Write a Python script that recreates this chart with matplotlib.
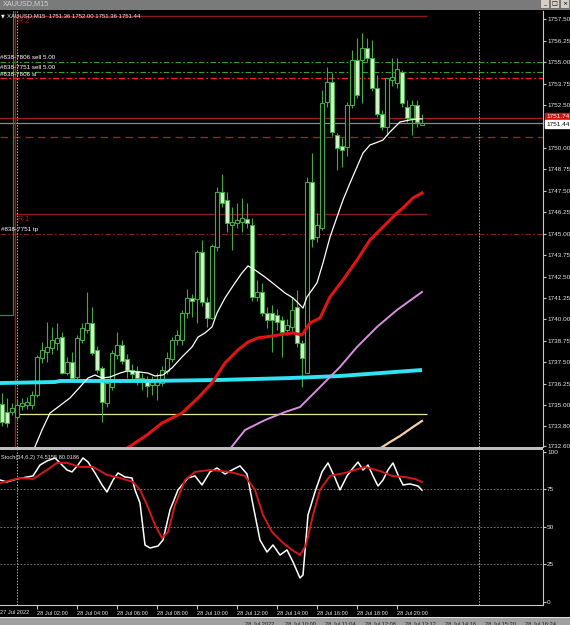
import numpy as np
import matplotlib.pyplot as plt
import matplotlib.transforms as mtransforms
from matplotlib.patches import Rectangle

plt.rcParams['font.family'] = ['Liberation Sans', 'DejaVu Sans']

# XAUUSD M15 candles, 28 Jul 2022
opens = [1735.05, 1734.60, 1734.60, 1734.30, 1734.95, 1735.00, 1735.00, 1735.60, 1737.75, 1738.10,
         1738.35, 1738.60, 1738.95, 1736.90, 1737.50, 1736.65, 1738.80, 1739.40, 1739.80, 1738.20,
         1737.15, 1735.10, 1736.05, 1737.90, 1738.50, 1737.70, 1737.05, 1737.00, 1736.60, 1736.50,
         1736.20, 1736.20, 1736.30, 1737.00, 1737.70, 1738.80, 1738.80, 1740.40, 1741.25, 1741.20,
         1743.90, 1741.00, 1740.10, 1744.20, 1747.40, 1746.95, 1745.50, 1745.60, 1745.70, 1745.85,
         1745.50, 1741.30, 1741.60, 1740.35, 1740.40, 1740.25, 1739.95, 1739.40, 1739.55, 1740.70,
         1738.60, 1736.90, 1748.00, 1744.80, 1745.30, 1752.65, 1753.85, 1750.75, 1750.10, 1750.05,
         1752.50, 1755.10, 1755.10, 1755.85, 1755.25, 1753.50, 1752.00, 1751.20, 1753.95, 1753.80,
         1754.40, 1752.40, 1751.75, 1752.50, 1751.36]
highs = [1735.70, 1735.40, 1735.10, 1735.30, 1735.40, 1735.45, 1735.80, 1737.90, 1738.70, 1739.85,
         1739.55, 1739.80, 1739.25, 1737.80, 1738.10, 1739.10, 1739.80, 1741.60, 1740.70, 1738.45,
         1737.30, 1736.45, 1738.20, 1739.25, 1738.80, 1738.00, 1737.40, 1737.30, 1736.90, 1736.70,
         1736.70, 1736.85, 1737.30, 1738.10, 1739.00, 1739.40, 1740.55, 1741.80, 1741.50, 1744.05,
         1744.60, 1741.30, 1744.40, 1747.70, 1748.50, 1747.40, 1746.55, 1746.80, 1747.05, 1746.80,
         1745.90, 1742.30, 1742.10, 1740.70, 1740.85, 1740.60, 1740.20, 1740.00, 1741.30, 1741.70,
         1738.80, 1748.30, 1749.70, 1746.20, 1753.40, 1754.70, 1754.35, 1750.87, 1750.60, 1752.70,
         1755.70, 1756.40, 1756.70, 1756.40, 1756.30, 1754.25, 1752.20, 1754.10, 1755.25, 1755.25,
         1754.55, 1752.80, 1752.80, 1752.80, 1752.00]
lows = [1733.80, 1733.70, 1734.40, 1734.10, 1734.70, 1734.80, 1734.80, 1735.50, 1737.45, 1737.50,
        1738.00, 1738.20, 1736.80, 1736.75, 1736.50, 1736.50, 1738.60, 1739.20, 1737.90, 1736.90,
        1734.00, 1734.90, 1735.90, 1737.70, 1737.40, 1736.60, 1736.40, 1736.20, 1735.90, 1735.50,
        1735.60, 1735.30, 1736.10, 1736.80, 1737.50, 1738.50, 1738.50, 1740.10, 1740.15, 1739.80,
        1740.80, 1739.55, 1740.00, 1744.00, 1746.55, 1745.10, 1744.05, 1745.30, 1745.10, 1745.30,
        1741.10, 1741.10, 1740.20, 1739.50, 1738.10, 1739.40, 1737.80, 1739.10, 1739.30, 1738.40,
        1736.05, 1736.85, 1744.20, 1744.50, 1745.20, 1752.40, 1750.70, 1748.70, 1748.90, 1749.50,
        1752.30, 1752.90, 1752.60, 1755.00, 1753.30, 1751.80, 1751.05, 1750.75, 1753.60, 1753.50,
        1752.40, 1751.50, 1750.75, 1751.20, 1751.36]
closes = [1734.00, 1733.95, 1734.85, 1735.00, 1735.15, 1735.20, 1735.60, 1737.80, 1738.20, 1738.40,
          1738.80, 1738.90, 1736.90, 1737.50, 1736.60, 1738.90, 1739.50, 1739.80, 1738.05, 1737.05,
          1735.20, 1736.30, 1738.05, 1738.50, 1737.60, 1737.05, 1736.80, 1736.60, 1736.50, 1736.10,
          1736.40, 1736.45, 1737.05, 1737.75, 1738.80, 1739.10, 1740.40, 1741.25, 1741.05, 1743.90,
          1741.00, 1740.10, 1744.30, 1747.45, 1746.80, 1745.60, 1745.70, 1745.80, 1745.90, 1745.60,
          1741.30, 1741.60, 1740.35, 1739.95, 1739.95, 1739.85, 1739.25, 1739.65, 1740.55, 1738.60,
          1737.75, 1748.00, 1744.70, 1745.50, 1752.60, 1753.85, 1750.90, 1750.00, 1749.90, 1752.50,
          1755.15, 1753.10, 1755.85, 1755.25, 1753.50, 1752.00, 1751.20, 1754.05, 1754.15, 1754.60,
          1752.60, 1751.75, 1752.50, 1751.50, 1751.44]

# moving averages: (bar position, price)
wma_x = [6.2, 8, 9.6, 11.2, 13.6, 15.6, 17.2, 18.6, 20, 21.6, 23.6, 25, 27.6, 29.2, 30.6, 32.2, 34, 36, 38,
         39.2, 40.6, 42, 43, 44.6, 46.6, 48, 49.2, 50.6, 52.6, 54.6, 56.6, 58.2, 59, 60.2, 61, 63, 64.2,
         65.6, 67, 68.2, 69.6, 71, 72.2, 73.6, 75.2, 76.2, 77.6, 79.6, 81.6, 83.2, 84]
wma_y = [1732.30, 1733.55, 1734.54, 1734.89, 1735.42, 1736.06, 1736.58, 1736.76, 1736.58, 1736.64,
         1736.87, 1736.99, 1736.93, 1736.87, 1736.70, 1736.76, 1737.17, 1737.81, 1738.39, 1738.97,
         1739.21, 1739.56, 1740.37, 1741.25, 1742.13, 1742.71, 1743.12, 1742.88, 1742.47, 1742.01,
         1741.54, 1741.25, 1741.02, 1740.66, 1741.31, 1742.13, 1743.29, 1744.80, 1745.97, 1746.96,
         1747.95, 1748.89, 1749.70, 1750.17, 1750.34, 1750.46, 1750.93, 1751.51, 1751.63, 1751.69,
         1751.69]
rma_x = [23.5, 29, 32, 36, 39.2, 42, 44.6, 47.2, 49.2, 51.2, 54, 56.6, 58.2, 60, 61.6, 63.6, 65.6, 68.2,
         71, 73.6, 76.2, 79, 80.2, 82.2, 84]
rma_y = [1732.20, 1733.26, 1733.96, 1734.54, 1735.42, 1736.29, 1737.46, 1738.22, 1738.68, 1738.92,
         1739.03, 1739.15, 1739.21, 1739.09, 1739.79, 1740.08, 1741.31, 1742.30, 1743.46, 1744.63,
         1745.39, 1746.20, 1746.50, 1747.08, 1747.37]
vma_x = [45.2, 48.6, 52.6, 56.6, 59.6, 63, 67.6, 71, 75, 79, 84]
vma_y = [1732.30, 1733.55, 1734.13, 1734.60, 1734.89, 1735.88, 1737.23, 1738.39, 1739.56, 1740.55, 1741.60]
cma_x = [-0.4, 10.6, 11.6, 29.6, 43.6, 57.6, 67.6, 75.6, 84]
cma_y = [1736.29, 1736.35, 1736.41, 1736.41, 1736.47, 1736.58, 1736.70, 1736.87, 1737.05]
pma_x = [75.2, 77.6, 79.6, 82.2, 84]
pma_y = [1732.40, 1732.85, 1733.20, 1733.73, 1734.08]

# stochastic (34,6,2)
sm_x = [-0.4, 1, 3, 5, 6.2, 7.6, 9, 10.6, 11.6, 13, 14, 15.2, 16.2, 17.2, 18.6, 20, 21, 22.2, 23.2, 24.6,
        26, 26.6, 27.6, 28.6, 29.6, 31.2, 32.2, 33.6, 35.2, 37.2, 38.6, 40, 41.6, 43, 44.6, 46, 47.6, 49,
        50.2, 51.6, 53, 54.2, 55.6, 57, 58.2, 59.6, 60.2, 61.2, 62.6, 64, 65.2, 66.6, 67.6, 69, 70.2, 71.2,
        72.2, 73.2, 74.2, 75.2, 76.2, 77.2, 78.2, 79.2, 80.2, 81.6, 83.2, 84]
sm_y = [81.3, 80, 82, 83.3, 84, 91.3, 94, 96, 92.7, 88, 86.7, 91.3, 96, 93.3, 86, 78, 73.3, 81.3, 86, 83.3,
        82.7, 74.7, 66, 38, 36, 37.3, 41.3, 61.3, 74.7, 82.7, 84, 78, 86.7, 89.3, 85.3, 88, 90.7, 85.3,
        64.7, 41.3, 33.3, 38, 31.3, 34.7, 26.7, 16, 18, 58, 73.3, 86.7, 92.7, 82.7, 74.7, 84, 89.3, 93.3,
        88, 91.3, 84, 77.3, 81.3, 88, 92.7, 84.7, 78, 78.7, 77.3, 74.5]
ss_x = [-0.4, 3.6, 6.2, 9, 11, 13, 15.6, 18.2, 21, 23.6, 26.2, 27.6, 29, 30.6, 32, 33.2, 34.6, 36.6, 38.6,
        41.6, 45.6, 48.6, 50.6, 52.2, 54, 56, 58, 59.6, 60.8, 62.2, 63.6, 65.6, 68.6, 70.6, 72.6, 75.6, 78,
        80.6, 82.6, 84]
ss_y = [79.3, 82.7, 82, 88, 92.7, 92.7, 90, 90, 84.7, 82.7, 80, 74.7, 64.7, 51.3, 42.7, 46.7, 64.7, 81.3,
        86.7, 88, 86.7, 84, 74.7, 58, 46.7, 40, 34.7, 31.3, 38, 58, 74.7, 84, 86, 88, 90, 87.3, 84, 83.3,
        82, 80]

# chart objects
r2_level = 1757.69
r1_level = 1746.15
sell_levels = [1755.00, 1754.43]
sl_level = 1754.08
red_level = 1751.74
dash_level = 1750.64
tp_level = 1745.00
yellow_level = 1734.48
bid = 1751.44

price_ticks = [1757.50, 1756.25, 1755.00, 1753.75, 1752.50, 1750.00, 1748.75, 1747.50, 1746.25,
               1745.00, 1743.75, 1742.50, 1741.25, 1740.00, 1738.75, 1737.50, 1736.25, 1735.00,
               1733.80, 1732.60]
price_tick_labels = ['%.2f' % v for v in price_ticks]
stoch_ticks = [100, 75, 50, 25, 0]
time_ticks = [7, 15, 23, 31, 39, 47, 55, 63, 71, 79]
time_labels = ['28 Jul 02:00', '28 Jul 04:00', '28 Jul 06:00', '28 Jul 08:00', '28 Jul 10:00',
               '28 Jul 12:00', '28 Jul 14:00', '28 Jul 16:00', '28 Jul 18:00', '28 Jul 20:00']

GREEN = '#45a845'
PALE = '#d2f5c8'
AXC = '#c8c8c8'
TXT = '#e6e6e6'
W, H = 570, 625


def fx(px):
    return px / W


def fy(py):
    return 1 - py / H


fig = plt.figure(figsize=(W / 100, H / 100), dpi=100, facecolor='black')
ax = fig.add_axes([0, fy(447), fx(543), (447 - 11) / H], facecolor='black')
ax2 = fig.add_axes([0, fy(605), fx(543), (605 - 450) / H], facecolor='black', sharex=ax)

# candles
idx = np.arange(len(opens))
o = np.array(opens)
c = np.array(closes)
up = c >= o
ax.vlines(idx, lows, highs, color=GREEN, lw=0.8, zorder=2)
lo = np.minimum(o, c)
hh = np.maximum(np.abs(c - o), 0.05)
ax.bar(idx[up], hh[up], bottom=lo[up], width=0.62, facecolor='black', edgecolor=GREEN, lw=0.8, zorder=3)
ax.bar(idx[~up], hh[~up], bottom=lo[~up], width=0.62, facecolor=PALE, edgecolor=GREEN, lw=0.8, zorder=3)

# moving averages
ax.plot(cma_x, cma_y, color='#2fe3f2', lw=2.8, zorder=4, solid_capstyle='butt')
ax.plot(pma_x, pma_y, color='#f3cfa6', lw=1.6, zorder=4)
ax.plot(vma_x, vma_y, color='#d98fe0', lw=1.4, zorder=4)
ax.plot(rma_x, rma_y, color='#e01414', lw=2.2, zorder=4)
ax.plot(wma_x, wma_y, color='white', lw=0.9, zorder=5)

# horizontal objects
ax.hlines([r2_level, r1_level], 2.6, 85, color='#8b1c1c', lw=1.0, zorder=1)
ax.hlines(yellow_level, 2.6, 85, color='#e6e69a', lw=0.9, zorder=1)
ax.axhline(red_level, color='#9c2020', lw=0.9, zorder=1)
ax.axhline(bid, color='#8a8a8a', lw=0.9, zorder=1)
for lv in sell_levels:
    ax.axhline(lv, color='#3c9c3c', lw=0.8, dashes=(5, 2, 1.5, 2), zorder=1)
ax.axhline(sl_level, color='#ff2020', lw=0.9, dashes=(5, 2, 1.5, 2), zorder=1)
ax.axhline(dash_level, color='#c41818', lw=0.9, dashes=(6, 4), zorder=1)
ax.axhline(tp_level, color='#7c2222', lw=0.8, dashes=(5, 2, 1.5, 2), zorder=1)

# rectangle / vertical objects on the left
ax.add_patch(Rectangle((-1.0, 1740.26), 3.2, 20, fill=False, ec='#2f8f2f', lw=0.9, zorder=1))
ax.axvline(2.6, color='#a01c1c', lw=1.0, zorder=1)
for a in (ax, ax2):
    a.axvline(3.0, color='#b0b0b0', lw=0.7, ls=(0, (1.5, 1.5)), zorder=1)
    a.axvline(95.4, color='#b0b0b0', lw=0.7, ls=(0, (1.5, 1.5)), zorder=1)

ax.text(3.3, r2_level - 0.12, 'R 2', color='#a02828', fontsize=5, va='top', ha='left', zorder=6)
ax.text(3.3, r1_level - 0.12, 'R 1', color='#a02828', fontsize=5, va='top', ha='left', zorder=6)
ax.text(-0.4, sell_levels[0] + 0.1, '#838-7806 sell 5.00', color='white', fontsize=4.5, va='bottom', zorder=6)
ax.text(-0.4, sell_levels[1] + 0.1, '#838-7751 sell 5.00', color='white', fontsize=4.5, va='bottom', zorder=6)
ax.text(-0.4, sl_level + 0.04, '#838-7806 sl', color='white', fontsize=4.5, va='bottom', zorder=6)
ax.text(-0.2, tp_level + 0.08, '#838-7751 tp', color='white', fontsize=4.5, va='bottom', zorder=6)

fig.text(fx(1), fy(16), '\u25bc', color='white', fontsize=3.5, va='center', family='DejaVu Sans')
fig.text(fx(7), fy(16), 'XAUUSD,M15  1751.36 1752.00 1751.36 1751.44', color='#e8e8e8',
         fontsize=4.3, va='center')

# main axis
ax.set_xlim(-0.4, 108.2)
ax.set_ylim(1732.56, 1757.98)
ax.yaxis.tick_right()
ax.set_yticks(price_ticks)
ax.set_yticklabels(price_tick_labels)
ax.tick_params(axis='y', colors=AXC, labelcolor=TXT, length=2, width=0.8, labelsize=4.6, pad=1)
ax.tick_params(axis='x', bottom=False, labelbottom=False)
for s in ax.spines.values():
    s.set_visible(False)
ax.spines['right'].set_visible(True)
ax.spines['right'].set_color(AXC)

trans = mtransforms.blended_transform_factory(ax.transAxes, ax.transData)
ax.text(1.006, red_level + 0.06, '1751.74', transform=trans, fontsize=4.6, color='white', va='center',
        ha='left', clip_on=False, zorder=10,
        bbox=dict(boxstyle='square,pad=0.2', fc='#d01010', ec='#d01010'))
ax.text(1.006, bid - 0.06, '1751.44', transform=trans, fontsize=4.6, color='black', va='center',
        ha='left', clip_on=False, zorder=11,
        bbox=dict(boxstyle='square,pad=0.2', fc='white', ec='white'))

# stochastic panel
ax2.plot(sm_x, sm_y, color='white', lw=1.1, zorder=3)
ax2.plot(ss_x, ss_y, color='#d41818', lw=1.4, zorder=4)
for lv in (75, 50, 25):
    ax2.axhline(lv, color='#8c8c8c', lw=0.6, ls=(0, (2, 2)), zorder=1)
ax2.set_ylim(-2, 101.3)
ax2.yaxis.tick_right()
ax2.set_yticks(stoch_ticks)
ax2.set_yticklabels([str(v) for v in stoch_ticks])
ax2.tick_params(axis='y', colors=AXC, labelcolor=TXT, length=2, width=0.8, labelsize=4.6, pad=1)
ax2.set_xticks(time_ticks)
ax2.set_xticklabels(time_labels)
ax2.tick_params(axis='x', colors=AXC, labelcolor=TXT, length=3, width=0.8, labelsize=4.1, pad=1.5)
for lbl in ax2.get_xticklabels():
    lbl.set_ha('left')
for s in ax2.spines.values():
    s.set_visible(False)
for side in ('right', 'bottom'):
    ax2.spines[side].set_visible(True)
    ax2.spines[side].set_color(AXC)
fig.text(fx(1), fy(457), 'Stoch(34,6,2) 74.5155 80.0186', color=TXT, fontsize=4.1, va='center')
fig.text(fx(0.5), fy(612), '27 Jul 2022', color=TXT, fontsize=4.1, va='center')

# panel separator
fig.patches.append(Rectangle((0, fy(450)), fx(543), 3 / H, transform=fig.transFigure,
                             fc='#bdbdbd', ec='none'))

# window title bar
fig.patches.append(Rectangle((0, fy(10)), 1, 10 / H, transform=fig.transFigure, fc='#7a7a7a', ec='none'))
fig.text(fx(3), fy(4), 'XAUUSD,M15', color='#d0d0d0', fontsize=5.2, va='center')
for bx, glyph in zip((540, 550, 560), ('_', '\u25a1', '\u00d7')):
    fig.patches.append(Rectangle((fx(bx), fy(8)), 9 / W, 10 / H, transform=fig.transFigure,
                                 fc='#d4d0c8', ec='#606060', lw=0.5))
    fig.text(fx(bx + 4.5), fy(4), glyph, color='black', fontsize=4.5, ha='center', va='center',
             family='DejaVu Sans')

# bottom tab strip (cut off by the window edge)
fig.patches.append(Rectangle((0, 0), 1, 7 / H, transform=fig.transFigure, fc='#a0a0a0', ec='none'))
fig.patches.append(Rectangle((0, 7 / H), 1, 1 / H, transform=fig.transFigure, fc='#e0e0e0', ec='none'))
tabs = ['28 Jul 2022', '28 Jul 10:00', '28 Jul 11:04', '28 Jul 12:08', '28 Jul 13:12',
        '28 Jul 14:16', '28 Jul 15:20', '28 Jul 16:24']
for k, t in enumerate(tabs):
    fig.text(fx(245 + 40 * k), fy(624), t, color='#202020', fontsize=4.1, va='center')

fig.savefig('out.png', dpi=100, facecolor='black')
